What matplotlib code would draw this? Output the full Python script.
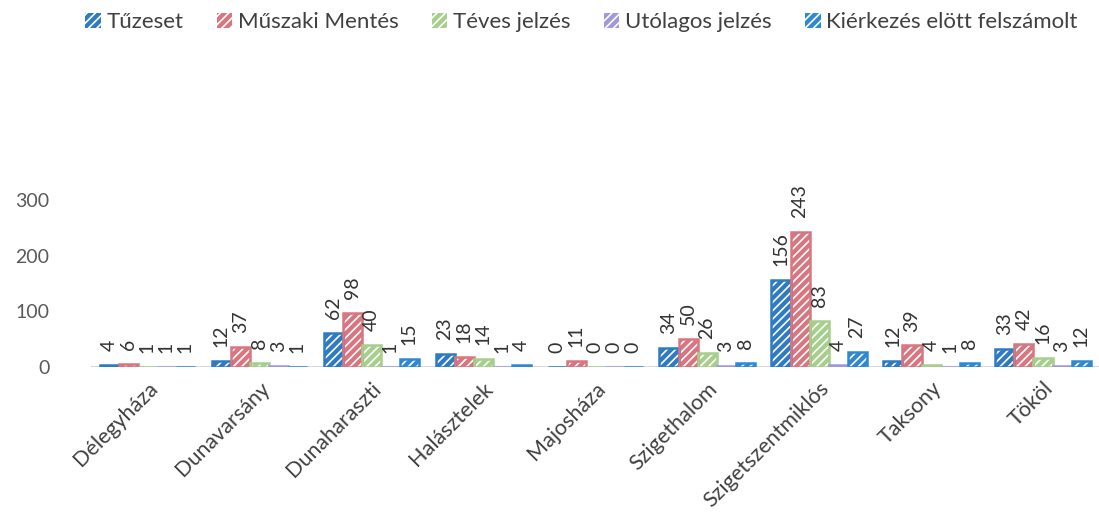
import matplotlib
matplotlib.use("Agg")
import matplotlib.pyplot as plt
import numpy as np

categories = ["Délegyháza", "Dunavarsány", "Dunaharaszti", "Halásztelek", "Majosháza",
              "Szigethalom", "Szigetszentmiklós", "Taksony", "Tököl"]
series_names = ["Tűzeset", "Műszaki Mentés", "Téves jelzés", "Utólagos jelzés",
                "Kiérkezés elött felszámolt"]
tuzeset = [4, 12, 62, 23, 0, 34, 156, 12, 33]
muszaki = [6, 37, 98, 18, 11, 50, 243, 39, 42]
teves = [1, 8, 40, 14, 0, 26, 83, 4, 16]
utolagos = [1, 3, 1, 1, 0, 3, 4, 1, 3]
kierkezes = [1, 1, 15, 4, 0, 8, 27, 8, 12]
series = [tuzeset, muszaki, teves, utolagos, kierkezes]
colors = ["#2E7BC4", "#D9757F", "#A6CF8C", "#9E98DC", "#2F89D2"]
yticks = [0, 100, 200, 300]

plt.rcParams['font.family'] = ['Lato', 'DejaVu Sans']
plt.rcParams['hatch.linewidth'] = 1.2

fig = plt.figure(figsize=(10.99, 5.15), dpi=100)
ax = fig.add_axes([0.083, 0.287, 0.917, 0.379])

x = np.arange(len(categories))
bw = 0.17
handles = []
for i, (vals, c, name) in enumerate(zip(series, colors, series_names)):
    pos = x + (i - 2) * bw
    h = ax.bar(pos, vals, bw, facecolor=c, edgecolor="white", hatch="////",
               linewidth=0, label=name, zorder=2)
    ax.bar(pos, vals, bw, fill=False, edgecolor=c, linewidth=1.8, zorder=3)
    handles.append(h)
    ax.bar_label(h, labels=[str(v) for v in vals], rotation=90, padding=10,
                 fontsize=14, color="#333333", clip_on=False)

ax.set_xlim(-0.5, len(categories) - 0.5)
ax.set_ylim(0, 350)
ax.set_yticks(yticks)
ax.set_yticklabels([str(t) for t in yticks], fontsize=14, color="#595959")
ax.set_xticks(x)
ax.set_xticklabels(categories, rotation=45, ha="right", rotation_mode="anchor",
                   fontsize=15.5, color="#404040")
ax.tick_params(axis="both", length=0)
ax.tick_params(axis="x", pad=8)
ax.tick_params(axis="y", pad=30)
for s in ax.spines.values():
    s.set_visible(False)
ax.axhline(0, color="#D9D9D9", linewidth=1.5, zorder=1)

fig.legend(handles=handles, labels=series_names, loc="center",
           bbox_to_anchor=(0.529, 0.957), ncol=5, frameon=False, fontsize=16,
           handlelength=0.7, handleheight=0.7, handletextpad=0.25,
           columnspacing=1.5, labelcolor="#404040")

fig.savefig("out.png", dpi=100)
